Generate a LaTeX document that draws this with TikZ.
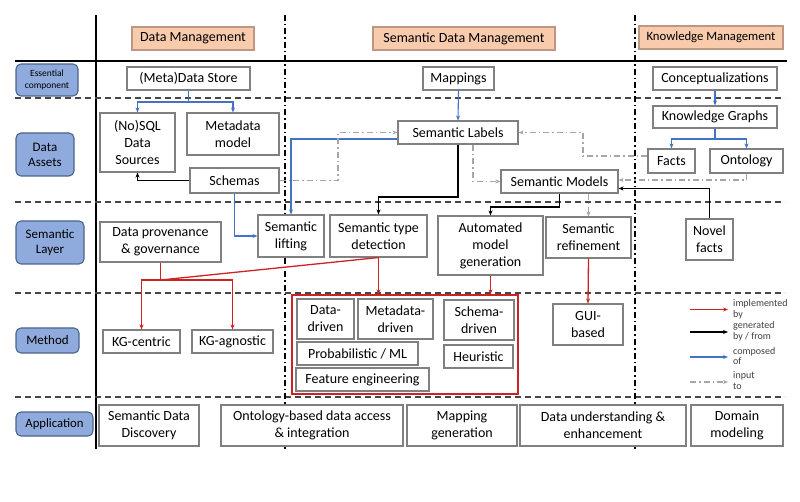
\documentclass[tikz,border=0pt]{standalone}
\usepackage{fontspec}
\setmainfont{Carlito}
\usetikzlibrary{arrows.meta}
\definecolor{boxgray}{RGB}{128,128,128}
\definecolor{hdrfill}{RGB}{248,203,173}
\definecolor{hdrdraw}{RGB}{190,150,130}
\definecolor{lblfill}{RGB}{143,170,220}
\definecolor{lbldraw}{RGB}{75,100,140}
\definecolor{implred}{RGB}{205,35,35}
\definecolor{compblue}{RGB}{68,114,196}
\definecolor{inpgray}{RGB}{166,166,166}
\definecolor{gridgray}{RGB}{70,70,70}
\tikzset{
  box/.style={draw=boxgray, line width=1.1pt, fill=white, inner sep=0pt, align=center,
    font=\fontsize{14}{17}\selectfont},
  hdr/.style={draw=hdrdraw, line width=1.1pt, fill=hdrfill, inner sep=0pt, align=center,
    font=\fontsize{14}{17}\selectfont},
  lbl/.style={draw=lbldraw, line width=1.1pt, fill=lblfill, rounded corners=5pt, inner sep=0pt,
    align=center, font=\fontsize{13}{15}\selectfont},
  tip/.style={-{Stealth[length=5pt,width=4pt]}},
  comp/.style={tip, draw=compblue, line width=1.1pt},
  gen/.style={tip, draw=black, line width=1.3pt},
  impl/.style={tip, draw=implred, line width=1.3pt},
  inp/.style={-{Stealth[length=5pt,width=4pt,sep=0pt]}, draw=inpgray, line width=1.2pt, dash pattern=on 6pt off 3pt on 1.5pt off 3pt},
  rowline/.style={draw=gridgray, line width=1.4pt, dash pattern=on 6pt off 4pt},
  colline/.style={draw=black, line width=1.4pt, dash pattern=on 6pt off 3pt on 1.5pt off 3pt},
  mainline/.style={draw=black, line width=2pt},
  legtext/.style={anchor=west, inner sep=0pt, align=left, font=\fontsize{10}{10.5}\selectfont, text=black!75}
}
\begin{document}
\begin{tikzpicture}[x=1pt,y=-1pt]
\useasboundingbox (0,0) rectangle (800,502);
\fill[white] (0,0) rectangle (800,502);

% grid
\coordinate (vt) at (96,15);  \coordinate (vb) at (96,449);
\coordinate (hl) at (15,61);  \coordinate (hr) at (787,61);
\draw[mainline] (vt) -- (vb);
\draw[mainline] (hl) -- (hr);
\foreach \yy in {98,202,293,397} { \draw[rowline] (15,\yy) -- (785,\yy); }
\foreach \xx in {285,635} { \draw[colline] (\xx,15) -- (\xx,449); }

% headers
\node[hdr, minimum width=122pt, minimum height=23pt] (hdm) at (193,38.5) {Data Management};
\node[hdr, minimum width=182pt, minimum height=23pt] (hsdm) at (464,38.5) {Semantic Data Management};
\node[hdr, minimum width=144pt, minimum height=23pt, font=\fontsize{12.7}{15}\selectfont] (hkm) at (711,37.5) {Knowledge Management};

% row labels
\node[lbl, minimum width=62pt, minimum height=32pt, font=\fontsize{9.5}{12}\selectfont] (l1) at (47,80) {Essential\\component};
\node[lbl, minimum width=58pt, minimum height=43pt] (l2) at (45,154.5) {Data\\Assets};
\node[lbl, minimum width=68pt, minimum height=43pt] (l3) at (50,242.5) {Semantic\\Layer};
\node[lbl, minimum width=63pt, minimum height=25pt] (l4) at (47.5,340.5) {Method};
\node[lbl, minimum width=77pt, minimum height=24pt, font=\fontsize{12.7}{15}\selectfont] (l5) at (54.5,424) {Application};

% data management column
\node[box, minimum width=123pt, minimum height=23pt] (store) at (188.5,78.5) {(Meta)Data Store};
\node[box, minimum width=75pt, minimum height=59pt] (nosql) at (137.5,142.5) {(No)SQL\\Data\\Sources};
\node[box, minimum width=92pt, minimum height=42pt] (metamodel) at (233,134) {Metadata\\model};
\node[box, minimum width=89pt, minimum height=25pt] (schemas) at (234.5,180.5) {Schemas};

% semantic data management column
\node[box, minimum width=71pt, minimum height=23pt] (mappings) at (458.5,78.5) {Mappings};
\node[box, minimum width=120pt, minimum height=23pt] (labels) at (458,132.5) {Semantic Labels};
\node[box, minimum width=117pt, minimum height=23pt] (models) at (559.5,181.5) {Semantic Models};

% knowledge management column
\node[box, minimum width=124pt, minimum height=23pt] (concept) at (715,78.5) {Conceptualizations};
\node[box, minimum width=124pt, minimum height=22pt] (kg) at (715,117) {Knowledge Graphs};
\node[box, minimum width=47pt, minimum height=24pt] (facts) at (671.5,161) {Facts};
\node[box, minimum width=73pt, minimum height=24pt] (ontology) at (746.5,161) {Ontology};

% semantic layer
\node[box, minimum width=121pt, minimum height=40pt] (prov) at (160.5,242) {Data provenance\\\& governance};
\node[box, minimum width=66pt, minimum height=42pt] (lifting) at (291,236) {Semantic\\lifting};
\node[box, minimum width=97pt, minimum height=42pt] (typedet) at (378.5,236) {Semantic type\\detection};
\node[box, minimum width=105pt, minimum height=59pt] (automated) at (490.5,245.5) {Automated\\model\\generation};
\node[box, minimum width=85pt, minimum height=41pt] (refine) at (588.5,237.5) {Semantic\\refinement};
\node[box, minimum width=47pt, minimum height=41pt] (novel) at (709.5,239.5) {Novel\\facts};

% method
\node[box, minimum width=77pt, minimum height=23pt] (kgc) at (141.5,341.5) {KG-centric};
\node[box, minimum width=81pt, minimum height=23pt] (kga) at (232.5,341.5) {KG-agnostic};
\node[draw=implred, line width=1.1pt, minimum width=226pt, minimum height=99pt, inner sep=0pt] (container) at (405,344.5) {};
\node[box, minimum width=57pt, minimum height=40pt] (datadriven) at (325.5,319) {Data-\\driven};
\node[box, minimum width=75pt, minimum height=40pt] (metadriven) at (395.5,319) {Metadata-\\driven};
\node[box, minimum width=70pt, minimum height=40pt] (schemadriven) at (479,320) {Schema-\\driven};
\node[box, minimum width=121pt, minimum height=23pt] (prob) at (357.5,353.5) {Probabilistic / ML};
\node[box, minimum width=133pt, minimum height=23pt] (feat) at (362.5,379.5) {Feature engineering};
\node[box, minimum width=69pt, minimum height=23pt] (heur) at (478.5,356.5) {Heuristic};
\node[box, minimum width=70pt, minimum height=41pt] (gui) at (588,324.5) {GUI-\\based};

% application
\node[box, minimum width=100pt, minimum height=41pt] (app1) at (149,425.5) {Semantic Data\\Discovery};
\node[box, minimum width=182pt, minimum height=41pt] (app2) at (312,425.5) {Ontology-based data access\\\& integration};
\node[box, minimum width=110pt, minimum height=41pt] (app3) at (462,425.5) {Mapping\\generation};
\node[box, minimum width=166pt, minimum height=41pt] (app4) at (603,425.5) {Data understanding \&\\enhancement};
\node[box, minimum width=92pt, minimum height=41pt] (app5) at (737,425.5) {Domain\\modeling};

% connectors: composed of (blue)
\coordinate (bsplit) at (188.5,102);
\draw[compblue, line width=1.1pt] (store.south) -- (bsplit);
\draw[comp] (bsplit) -| (nosql.north);
\draw[comp] (bsplit) -| (metamodel.north);
\draw[comp] (schemas.south) |- (lifting.west);
\draw[comp] ([yshift=-6.5pt]labels.west) -| (lifting.north);
\draw[comp] (mappings.south) -- (labels.north);
\draw[comp] (concept.south) -- (kg.north);
\coordinate (ksplit) at (715,139);
\draw[compblue, line width=1.1pt] (kg.south) -- (ksplit);
\draw[comp] (ksplit) -| (facts.north);
\draw[comp] (ksplit) -| (ontology.north);

% generated by / from (black)
\draw[gen] (schemas.west) -| (nosql.south);
\coordinate (lsplit) at (458,197);
\draw[gen] (labels.south) -- (lsplit) -| (typedet.north);
\coordinate (msplit) at (559.5,207);
\draw[gen] (models.south) -- (msplit) -| (automated.north);
\draw[gen] (novel.north) |- ([yshift=-7pt]models.east);

% input to (gray dash-dot)
\coordinate (g1) at (338,180.5);
\draw[inp] (schemas.east) -- (g1) |- (labels.west);
\draw[inp] ([xshift=15pt]labels.south) |- (models.west);
\coordinate (g2) at (583,156);
\draw[inp] ([yshift=5pt]facts.west) -- (g2) |- (labels.east);
\draw[inp] (ontology.south) |- ([yshift=1.5pt]models.east);
\draw[inp] (models.south -| refine.north) -- (refine.north);

% implemented by (red)
\coordinate (rj) at (160.5,280);
\draw[implred, line width=1.3pt] (typedet.south) -- (rj);
\draw[implred, line width=1.3pt] (prov.south) -- (rj);
\draw[impl] (rj) -| (kgc.north);
\draw[impl] (rj) -| (kga.north);
\draw[impl] (typedet.south) -- (typedet.south |- container.north);
\draw[impl] (automated.south) -- (automated.south |- container.north);
\draw[impl] (refine.south) -- (gui.north);

% legend
\coordinate (la1) at (690,309.5); \coordinate (lb1) at (728,309.5);
\coordinate (la2) at (690,332);   \coordinate (lb2) at (728,332);
\coordinate (la3) at (690,357);   \coordinate (lb3) at (728,357);
\coordinate (la4) at (690,382);   \coordinate (lb4) at (728,382);
\draw[impl] (la1) -- (lb1);
\draw[gen] (la2) -- (lb2);
\draw[comp] (la3) -- (lb3);
\draw[inp] (la4) -- (lb4);
\node[legtext] (lt1) at (733,309.5) {implemented\\by};
\node[legtext] (lt2) at (733,331.5) {generated\\by / from};
\node[legtext] (lt3) at (733,356) {composed\\of};
\node[legtext] (lt4) at (733,380.5) {input\\to};
\end{tikzpicture}
\end{document}
